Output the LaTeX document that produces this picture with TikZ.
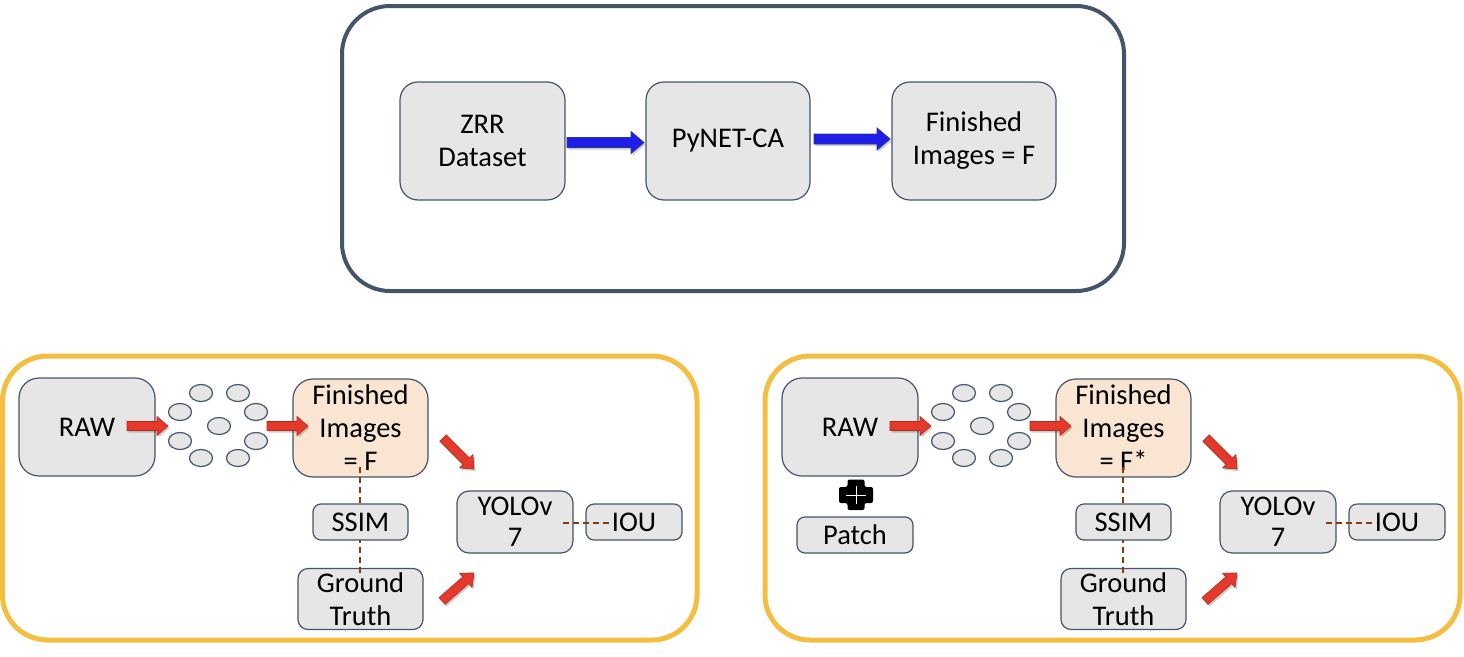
\documentclass[tikz,border=0pt]{standalone}
\usepackage{fontspec}
\setmainfont{Carlito}
\usetikzlibrary{calc}
\definecolor{slate}{HTML}{44546A}
\definecolor{boxfill}{HTML}{E7E6E6}
\definecolor{peach}{HTML}{F9E5D1}
\definecolor{gold}{HTML}{F4BE41}
\definecolor{redA}{HTML}{E53A2B}
\definecolor{redB}{HTML}{B22A1F}
\definecolor{blueA}{HTML}{1E1EE8}
\definecolor{blueB}{HTML}{2C3A8C}
\definecolor{dashc}{HTML}{843C0C}
\newcommand\fatarr[6]{%
 \coordinate (fah) at ($(#3)!#6!(#2)$);
 \begin{scope}[transform canvas={shift={(1.5pt,-2pt)}}]
 \fill[black,opacity=.2] ($(#2)!#4!90:(#3)$) -- ($(fah)!#4!90:(#3)$) -- ($(fah)!#5!90:(#3)$) -- (#3) -- ($(fah)!#5!-90:(#3)$) -- ($(fah)!#4!-90:(#3)$) -- ($(#2)!#4!-90:(#3)$) -- cycle;
 \end{scope}
 \filldraw[#1] ($(#2)!#4!90:(#3)$) -- ($(fah)!#4!90:(#3)$) -- ($(fah)!#5!90:(#3)$) -- (#3) -- ($(fah)!#5!-90:(#3)$) -- ($(fah)!#4!-90:(#3)$) -- ($(#2)!#4!-90:(#3)$) -- cycle;
}
\begin{document}
\begin{tikzpicture}[x=1pt,y=-1pt,
  box/.style={draw=slate, fill=boxfill, line width=1.2pt, rounded corners=#1, align=center,
    font=\fontsize{28.5}{33}\selectfont, inner sep=0pt},
  box/.default=18pt,
  circ/.style={draw=slate, fill=boxfill, line width=1.2pt},
  redarr/.style={fill=redA, draw=redB, line width=0.6pt, line join=miter},
  bluearr/.style={fill=blueA, draw=blueB, line width=0.8pt, line join=miter},
  dashln/.style={draw=dashc, line width=1.4pt, dash pattern=on 6pt off 4pt}]
\useasboundingbox (0,0) rectangle (1464,656);
% top frame
\draw[slate, line width=4pt, rounded corners=48pt] (342,6) rectangle (1124,291);
\node[box, minimum width=165pt, minimum height=118pt] (zrr) at (482.5,141) {ZRR\\Dataset};
\node[box, minimum width=164pt, minimum height=118pt] (pynet) at (728,141) {PyNET-CA};
\node[box, minimum width=164pt, minimum height=118pt] (fin) at (974,141) {Finished\\Images = F};
\coordinate (b1s) at (567,142.5); \coordinate (b1e) at (644,142.5);
\coordinate (b2s) at (814,139); \coordinate (b2e) at (890,139);
\fatarr{bluearr}{b1s}{b1e}{5pt}{11pt}{13pt}
\fatarr{bluearr}{b2s}{b2e}{5pt}{11pt}{13pt}
% bottom frames
\draw[gold, line width=5pt, rounded corners=45pt] (2.5,356) rectangle (697,640);
\draw[gold, line width=5pt, rounded corners=45pt] (765,356) rectangle (1460,640);
\foreach \ox/\s/\ftxt in {0/L/F, 763/R/F*}{
 \begin{scope}[xshift=\ox pt]
  \node[box=20pt, minimum width=136pt, minimum height=98pt] (raw\s) at (87,427) {RAW};
  \foreach \cx/\cy in {201/393, 238/393, 180/412, 256/412, 219/426, 180/441, 256/441, 201/458, 238/458}{
   \draw[circ] (\cx,\cy) ellipse [x radius=11.5, y radius=8.5];
  }
  \node[box=20pt, fill=peach, minimum width=135pt, minimum height=98pt] (fin\s) at (360.5,428) {Finished\\Images\\= \ftxt};
  \node[box=10pt, minimum width=125pt, minimum height=61pt] (gt\s) at (360.5,599) {Ground\\Truth};
  \node[box=12pt, minimum width=116pt, minimum height=62pt, font=\fontsize{28.5}{31}\selectfont] (yolo\s) at (515,522) {YOLOv\\7};
  \node[box=8pt, minimum width=96pt, minimum height=36pt] (iou\s) at (634,522) {IOU};
  \coordinate (d1s\s) at (360,467); \coordinate (d1e\s) at (360,577);
  \draw[dashln] (d1s\s) -- (d1e\s);
  \node[box=8pt, minimum width=95pt, minimum height=36pt] (ssim\s) at (360.5,522) {SSIM};
  \coordinate (d2s\s) at (563,523); \coordinate (d2e\s) at (613,523);
  \draw[dashln] (d2s\s) -- (d2e\s);
  \coordinate (a1s\s) at (127,426); \coordinate (a1e\s) at (168,426);
  \coordinate (a2s\s) at (267,426); \coordinate (a2e\s) at (308,426);
  \coordinate (a3s\s) at (443,438); \coordinate (a3e\s) at (474,469);
  \coordinate (a4s\s) at (442,601); \coordinate (a4e\s) at (474,573);
  \fatarr{redarr}{a1s\s}{a1e\s}{4.5pt}{9.5pt}{11pt}
  \fatarr{redarr}{a2s\s}{a2e\s}{4.5pt}{9.5pt}{11pt}
  \fatarr{redarr}{a3s\s}{a3e\s}{4.5pt}{9.5pt}{11pt}
  \fatarr{redarr}{a4s\s}{a4e\s}{4.5pt}{9.5pt}{11pt}
 \end{scope}
}
% plus and patch
\fill[black, rounded corners=2pt] (847.5,479.5) -- (864.5,479.5) -- (864.5,487) -- (873,487) -- (873,503) -- (864.5,503) -- (864.5,510) -- (847.5,510) -- (847.5,503) -- (839,503) -- (839,487) -- (847.5,487) -- cycle;
\draw[white, line width=0.8pt] (846,495) -- (866,495) (856,486) -- (856,504);
\node[box=8pt, minimum width=116pt, minimum height=36pt] (patch) at (855,535) {Patch};
\end{tikzpicture}
\end{document}
